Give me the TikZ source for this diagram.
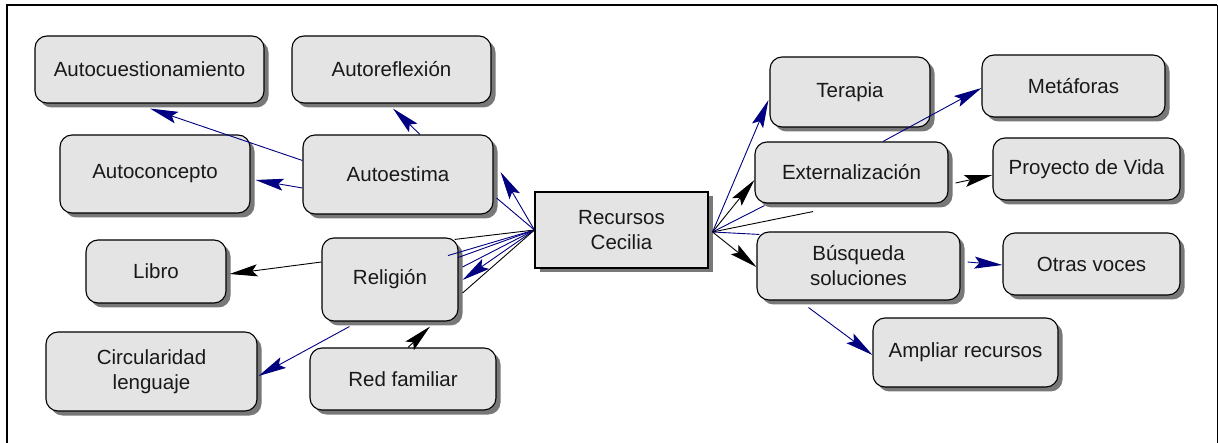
\documentclass[tikz,border=0pt]{standalone}
\usepackage{fontspec}
\setmainfont{Liberation Sans}
\usetikzlibrary{arrows.meta,shadows}
\definecolor{navy}{RGB}{0,0,128}
\definecolor{boxfill}{RGB}{228,228,228}
\definecolor{shade}{RGB}{120,120,120}
\begin{document}
\begin{tikzpicture}[x=1pt,y=-1pt,
  concept/.style={draw=black, line width=1.1pt, fill=boxfill, rounded corners=12pt,
    align=center, inner sep=0pt, text=black!90,
    font=\fontsize{20.5}{25}\selectfont,
    drop shadow={shadow xshift=4.5pt, shadow yshift=-4.5pt, fill=shade, opacity=1}},
  hub/.style={concept, sharp corners},
  bluelink/.style={draw=navy, line width=0.9pt},
  blacklink/.style={draw=black, line width=0.9pt},
  headed/.style={-{Stealth[length=28pt, width=12pt, inset=5pt]}},
]
\useasboundingbox (0,0) rectangle (1218,443);

% outer frame (open at the bottom)
\draw[line width=2pt] (7,443) -- (7,5) -- (1217,5);
\draw[shade, line width=1pt] (1217,5) -- (1217,443);

% left cluster
\node[concept, minimum width=229pt, minimum height=67pt] (cue) at (149.5,69.5) {Autocuestionamiento};
\node[concept, minimum width=199pt, minimum height=67pt] (ref) at (391.5,69.5) {Autoreflexión};
\node[concept, minimum width=190pt, minimum height=78pt] (con) at (155,174) {Autoconcepto};
\node[concept, minimum width=190pt, minimum height=79pt] (est) at (398,174.5) {Autoestima};
\node[concept, minimum width=140pt, minimum height=63pt] (lib) at (156,271.5) {Libro};
\node[concept, minimum width=136pt, minimum height=83pt] (rel) at (390,279.5) {Religión};
\node[concept, minimum width=211pt, minimum height=79pt] (cir) at (151.5,371.5) {Circularidad\\lenguaje};
\node[concept, minimum width=186pt, minimum height=62pt] (red) at (403,379) {Red familiar};

% centre
\node[hub, minimum width=173pt, minimum height=76pt] (rec) at (621.5,230) {Recursos\\Cecilia};

% right cluster
\node[concept, minimum width=160pt, minimum height=70pt] (ter) at (850,92) {Terapia};
\node[concept, minimum width=183pt, minimum height=62pt] (met) at (1073.5,86) {Metáforas};
\node[concept, minimum width=193pt, minimum height=61pt] (ext) at (851.5,172.5) {Externalización};
\node[concept, minimum width=187pt, minimum height=62pt] (pro) at (1086.5,169) {Proyecto de Vida};
\node[concept, minimum width=203pt, minimum height=68pt] (bus) at (858.5,266) {Búsqueda\\soluciones};
\node[concept, minimum width=177pt, minimum height=62pt] (otr) at (1091.5,264) {Otras voces};
\node[concept, minimum width=185pt, minimum height=69pt] (amp) at (965.5,352.5) {Ampliar recursos};

% fan from the centre to the left
\draw[bluelink, headed] (rec.west) -- ([shift={(7,-2.5)}]est.east);
\draw[bluelink] (rec.west) -- ([shift={(3,23.5)}]est.east);
\draw[bluelink] (rec.west) -- ([shift={(50,41)}]est.south);
\draw[bluelink] (rec.west) -- ([shift={(60,43)}]est.south);
\draw[blacklink] (rec.west) -- ([shift={(-4,2)}]rel.north east);
\draw[bluelink] (rec.west) -- ([shift={(4,-12.5)}]rel.east);
\draw[bluelink, headed] (rec.west) -- ([shift={(4,0.5)}]rel.east);
\draw[blacklink] (rec.west) -- ([shift={(4,13.5)}]rel.east);

% fan from the centre to the right
\draw[bluelink, headed] ([shift={(4,2)}]rec.east) -- ([shift={(-1,8)}]ter.west);
\draw[blacklink, headed] ([shift={(4,2)}]rec.east) -- ([shift={(0,7.5)}]ext.west);
\draw[bluelink] ([shift={(4,2)}]rec.east) -- ([shift={(10,2)}]ext.south west);
\draw[blacklink] ([shift={(4,2)}]rec.east) -- ([shift={(-38.5,8)}]ext.south);
\draw[bluelink] ([shift={(4,2)}]rec.east) -- ([shift={(3,3)}]bus.north west);
\draw[blacklink, headed] ([shift={(4,2)}]rec.east) -- ([shift={(0,1)}]bus.west);

% links around Autoestima
\draw[bluelink, headed] ([shift={(0,-14)}]est.west) -- ([shift={(0.5,5)}]cue.south);
\draw[bluelink, headed] ([shift={(0,13.5)}]est.west) -- ([shift={(5,6)}]con.east);
\draw[bluelink, headed] ([shift={(22,0)}]est.north) -- ([shift={(1.5,5)}]ref.south);

% links around Religión
\draw[blacklink, headed] ([shift={(0,-17.5)}]rel.west) -- ([shift={(3,2.5)}]lib.east);
\draw[bluelink, headed] ([shift={(28,5)}]rel.south west) -- ([shift={(1,4.5)}]cir.east);
\draw[blacklink, headed] ([shift={(5,0)}]red.north) -- ([shift={(40,5)}]rel.south);

% links on the right
\draw[bluelink, headed] ([shift={(31.5,0)}]ext.north) -- ([shift={(0,2)}]met.west);
\draw[blacklink, headed] ([shift={(7,10.5)}]ext.east) -- ([shift={(0,6)}]pro.west);
\draw[bluelink, headed] ([shift={(7,-4)}]bus.east) -- ([shift={(0,1)}]otr.west);
\draw[bluelink, headed] ([shift={(-50,7)}]bus.south) -- ([shift={(0,2.5)}]amp.west);
\end{tikzpicture}
\end{document}
